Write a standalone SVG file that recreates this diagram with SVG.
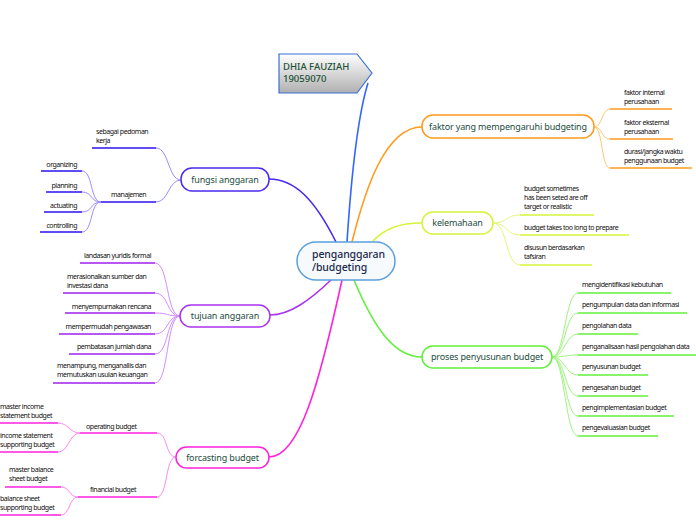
<svg xmlns="http://www.w3.org/2000/svg" width="696" height="520" viewBox="0 0 696 520">
<defs>
<linearGradient id="tg" x1="0" y1="0" x2="0" y2="1">
<stop offset="0" stop-color="#ffffff"/>
<stop offset="1" stop-color="#b0b0b0"/>
</linearGradient>
<style>
.n{fill:#fff;stroke-width:1.5}
.nt{font-family:"Noto Sans","Open Sans",sans-serif;font-size:9px;fill:#1b4d3e;text-anchor:middle;letter-spacing:-0.15px}
.s{font-family:"Noto Sans","Open Sans",sans-serif;font-size:7px;fill:#111;letter-spacing:-0.45px}
.e{text-anchor:end}
.c{fill:none;stroke-width:1}
.m{fill:none;stroke-width:1.6}
.u{stroke-width:1.6}
.ct{font-family:"Noto Sans","Open Sans",sans-serif;font-size:10.5px;font-weight:500;fill:#1b2a4a;letter-spacing:-0.1px}
.tt{font-family:"Noto Sans","Open Sans",sans-serif;font-size:9.5px;font-weight:500;fill:#1d5236}
</style>
</defs>
<rect width="696" height="520" fill="#fff"/>

<g id="connectors">
<path class="m" d="M347,242 C352,165 358,115 368,83" stroke="#3366ff"/>
<path class="m" d="M352,242 C365,190 385,127 422,127" stroke="#ff9a1a"/>
<path class="m" d="M372,242 C385,228 400,223 422,223" stroke="#d4f53a"/>
<path class="m" d="M354,280 C375,330 395,357 422,357" stroke="#5ff03a"/>
<path class="m" d="M336,242 C315,200 295,179 269,179" stroke="#4a2af0"/>
<path class="m" d="M331,280 C310,300 290,315 270,315" stroke="#aa33ee"/>
<path class="m" d="M342,280 C320,380 300,457 269,457" stroke="#ff22dd"/>

<g stroke="#ffc773">
<path class="c" d="M594,127 C603,127 601,109 610,109"/>
<path class="c" d="M594,127 C603,127 601,139 610,139"/>
<path class="c" d="M594,127 C603,127 601,168 610,168"/>
</g>
<g stroke="#e4f77a">
<path class="c" d="M493,223 C508,223 505,215 520,215"/>
<path class="c" d="M493,223 C508,223 505,235 520,235"/>
<path class="c" d="M493,223 C508,223 505,265 520,265"/>
</g>
<g stroke="#9ff57f">
<path class="c" d="M552,357 C565,357 565,293 578,293"/>
<path class="c" d="M552,357 C565,357 565,313 578,313"/>
<path class="c" d="M552,357 C565,357 565,334 578,334"/>
<path class="c" d="M552,357 C565,357 565,355 578,355"/>
<path class="c" d="M552,357 C565,357 565,375 578,375"/>
<path class="c" d="M552,357 C565,357 565,396 578,396"/>
<path class="c" d="M552,357 C565,357 565,416 578,416"/>
<path class="c" d="M552,357 C565,357 565,436 578,436"/>
</g>
<g stroke="#9d8cff">
<path class="c" d="M181,180 C168,180 169,148 156,148"/>
<path class="c" d="M181,180 C168,180 169,202 156,202"/>
<path class="c" d="M101,202 C90,202 93,171 82,171"/>
<path class="c" d="M101,202 C90,202 93,192 82,192"/>
<path class="c" d="M101,202 C90,202 93,212 82,212"/>
<path class="c" d="M101,202 C90,202 93,232 82,232"/>
</g>
<g stroke="#d28cff">
<path class="c" d="M180,316 C166,316 169,263 155,263"/>
<path class="c" d="M180,316 C166,316 169,293 155,293"/>
<path class="c" d="M180,316 C166,316 169,313 155,313"/>
<path class="c" d="M180,316 C166,316 169,334 155,334"/>
<path class="c" d="M180,316 C166,316 169,354 155,354"/>
<path class="c" d="M180,316 C166,316 169,383 155,383"/>
</g>
<g stroke="#ff88ee">
<path class="c" d="M176,457 C165,457 168,433 157,433"/>
<path class="c" d="M176,457 C165,457 168,497 157,497"/>
<path class="c" d="M80,433 C69,433 69,423 58,423"/>
<path class="c" d="M80,433 C69,433 69,452 58,452"/>
<path class="c" d="M78,497 C69,497 70,487 61,487"/>
<path class="c" d="M78,497 C69,497 70,515 61,515"/>
</g>
</g>

<g id="center">
<rect x="297" y="242" width="98" height="38" rx="19" fill="#f7fafd" stroke="#5aa0dd" stroke-width="1.5"/>
<text class="ct" x="312" y="258">penganggaran</text>
<text class="ct" x="312" y="271">/budgeting</text>
</g>

<g id="title">
<path d="M279,54 L357,54 L372,73 L357,93 L279,93 Z" fill="url(#tg)" stroke="#3a6fd8" stroke-width="1.2"/>
<text class="tt" x="283" y="70">DHIA FAUZIAH</text>
<text class="tt" x="283" y="82">19059070</text>
</g>

<g id="faktor">
<rect class="n" x="422" y="115" width="172" height="23" rx="11" stroke="#ff9a1a"/>
<text class="nt" x="508" y="130">faktor yang mempengaruhi budgeting</text>
<line class="u" x1="610" y1="109" x2="672" y2="109" stroke="#ff9a1a"/>
<text class="s" x="624" y="95">faktor internal</text>
<text class="s" x="624" y="104">perusahaan</text>
<line class="u" x1="610" y1="139" x2="673" y2="139" stroke="#ff9a1a"/>
<text class="s" x="624" y="125">faktor eksternal</text>
<text class="s" x="624" y="134">perusahaan</text>
<line class="u" x1="610" y1="168" x2="692" y2="168" stroke="#ff9a1a"/>
<text class="s" x="624" y="154">durasi/jangka waktu</text>
<text class="s" x="624" y="163">penggunaan budget</text>
</g>

<g id="kelemahaan">
<rect class="n" x="422" y="212" width="71" height="22" rx="11" stroke="#d4f53a"/>
<text class="nt" x="457.5" y="226" letter-spacing="0.2">kelemahaan</text>
<line class="u" x1="520" y1="215" x2="594" y2="215" stroke="#d4f53a"/>
<text class="s" x="524" y="191">budget sometimes</text>
<text class="s" x="524" y="200">has been seted are off</text>
<text class="s" x="524" y="209">target or realistic</text>
<line class="u" x1="520" y1="235" x2="629" y2="235" stroke="#d4f53a"/>
<text class="s" x="524" y="230">budget takes too long to prepare</text>
<line class="u" x1="520" y1="265" x2="592" y2="265" stroke="#d4f53a"/>
<text class="s" x="524" y="250">disusun berdasarkan</text>
<text class="s" x="524" y="259">tafsiran</text>
</g>

<g id="proses">
<rect class="n" x="422" y="346" width="130" height="22" rx="11" stroke="#5ff03a"/>
<text class="nt" x="487" y="360">proses penyusunan budget</text>
<g stroke="#5ff03a">
<line class="u" x1="578" y1="293" x2="671" y2="293"/>
<line class="u" x1="578" y1="313" x2="687" y2="313"/>
<line class="u" x1="578" y1="334" x2="638" y2="334"/>
<line class="u" x1="578" y1="355" x2="696" y2="355"/>
<line class="u" x1="578" y1="375" x2="648" y2="375"/>
<line class="u" x1="578" y1="396" x2="648" y2="396"/>
<line class="u" x1="578" y1="416" x2="674" y2="416"/>
<line class="u" x1="578" y1="436" x2="658" y2="436"/>
</g>
<text class="s" x="582" y="287">mengidentifikasi kebutuhan</text>
<text class="s" x="582" y="307">pengumpulan data dan informasi</text>
<text class="s" x="582" y="328">pengolahan data</text>
<text class="s" x="582" y="349">penganalisaan hasil pengolahan data</text>
<text class="s" x="582" y="369">penyusunan budget</text>
<text class="s" x="582" y="390">pengesahan budget</text>
<text class="s" x="582" y="410">pengimplementasian budget</text>
<text class="s" x="582" y="430">pengevaluasian budget</text>
</g>

<g id="fungsi">
<rect class="n" x="181" y="168" width="88" height="23" rx="11" stroke="#4a2af0"/>
<text class="nt" x="225" y="183">fungsi anggaran</text>
<line class="u" x1="92" y1="148" x2="156" y2="148" stroke="#2a10ee"/>
<text class="s" x="96" y="134">sebagai pedoman</text>
<text class="s" x="96" y="143">kerja</text>
<line class="u" x1="101" y1="202" x2="156" y2="202" stroke="#2a10ee"/>
<text class="s" x="111" y="197" letter-spacing="0.2">manajemen</text>
<g stroke="#2a10ee">
<line class="u" x1="41" y1="171" x2="82" y2="171"/>
<line class="u" x1="46" y1="192" x2="82" y2="192"/>
<line class="u" x1="44" y1="212" x2="82" y2="212"/>
<line class="u" x1="40" y1="232" x2="82" y2="232"/>
</g>
<text class="s e" x="77" y="167">organizing</text>
<text class="s e" x="77" y="188">planning</text>
<text class="s e" x="77" y="208">actuating</text>
<text class="s e" x="77" y="228">controlling</text>
</g>

<g id="tujuan">
<rect class="n" x="180" y="305" width="90" height="22" rx="11" stroke="#aa33ee"/>
<text class="nt" x="225" y="319">tujuan anggaran</text>
<g stroke="#a020ee">
<line class="u" x1="80" y1="263" x2="155" y2="263"/>
<line class="u" x1="63" y1="293" x2="155" y2="293"/>
<line class="u" x1="65" y1="313" x2="155" y2="313"/>
<line class="u" x1="59" y1="334" x2="155" y2="334"/>
<line class="u" x1="69" y1="354" x2="155" y2="354"/>
<line class="u" x1="53" y1="383" x2="155" y2="383"/>
</g>
<text class="s e" x="151" y="258">landasan yuridis formal</text>
<text class="s" x="67" y="279">merasionalkan sumber dan</text>
<text class="s" x="67" y="288">investasi dana</text>
<text class="s e" x="151" y="309">menyempurnakan rencana</text>
<text class="s e" x="151" y="329">mempermudah pengawasan</text>
<text class="s e" x="151" y="349">pembatasan jumlah dana</text>
<text class="s" x="57" y="368">menampung, menganallis dan</text>
<text class="s" x="57" y="377">memutuskan usulan keuangan</text>
</g>

<g id="forcasting">
<rect class="n" x="176" y="447" width="93" height="21" rx="10.5" stroke="#ff22dd"/>
<text class="nt" x="222.5" y="461" letter-spacing="0.1">forcasting budget</text>
<g stroke="#ff22dd">
<line class="u" x1="80" y1="433" x2="157" y2="433"/>
<line class="u" x1="78" y1="497" x2="157" y2="497"/>
<line class="u" x1="0" y1="423" x2="58" y2="423"/>
<line class="u" x1="0" y1="452" x2="58" y2="452"/>
<line class="u" x1="5" y1="487" x2="61" y2="487"/>
<line class="u" x1="0" y1="515" x2="61" y2="515"/>
</g>
<text class="s" x="86" y="429" font-size="7.5" letter-spacing="0.3">operating budget</text>
<text class="s" x="90" y="492" font-size="7.5" letter-spacing="0.3">financial budget</text>
<text class="s" x="0" y="409">master income</text>
<text class="s" x="0" y="418">statement budget</text>
<text class="s" x="0" y="438">income statement</text>
<text class="s" x="0" y="447">supporting budget</text>
<text class="s" x="9" y="472">master balance</text>
<text class="s" x="9" y="481">sheet budget</text>
<text class="s" x="0" y="501">balance sheet</text>
<text class="s" x="0" y="510">supporting budget</text>
</g>
</svg>
